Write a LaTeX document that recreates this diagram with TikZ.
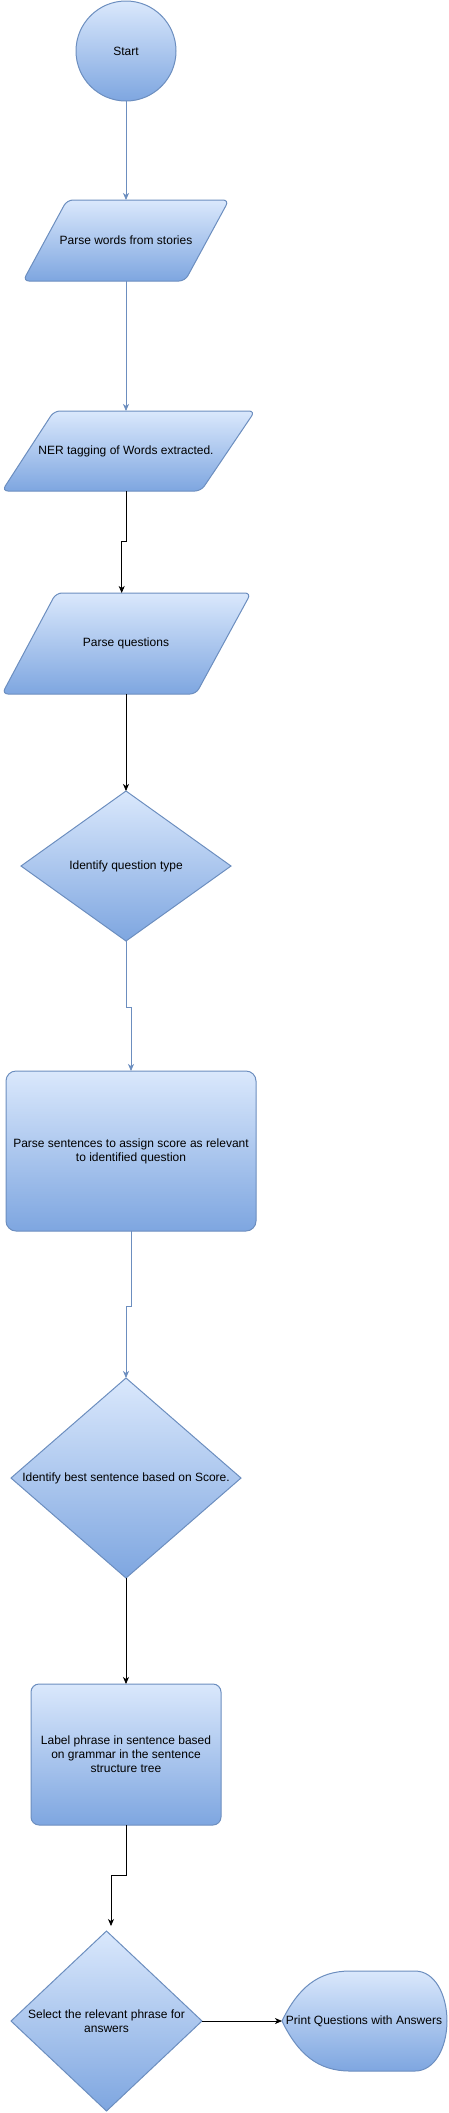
\documentclass[tikz,border=0pt]{standalone}
\usepackage{fontspec}
\setmainfont{Liberation Sans}
\usetikzlibrary{shapes.geometric,arrows.meta}
\definecolor{fillTop}{HTML}{DAE8FC}
\definecolor{fillBot}{HTML}{7EA6E0}
\definecolor{strokeC}{HTML}{6C8EBF}
\tikzset{
 shp/.style={draw=strokeC, line width=1pt, top color=fillTop, bottom color=fillBot, outer sep=0pt, inner sep=0pt},
 lbl/.style={font=\fontsize{12}{14}\selectfont, align=center, text=black},
 tip/.style={-{Stealth[length=7pt,width=6pt,inset=2pt]}},
 bluecon/.style={draw=strokeC, line width=0.8pt, tip},
 blkcon/.style={draw=black, line width=0.8pt, tip},
 para/.style={shp, rounded corners=6pt},
 dia/.style={shp, diamond},
}
\begin{document}
\begin{tikzpicture}[x=1pt,y=-1pt]
\useasboundingbox (0,0) rectangle (449,2113);
% shapes
\node[shp, circle, minimum size=100pt, lbl] (start) at (126,51) {Start};
\path[para] (23,281) -- (67,200) -- (229,200) -- (185,281) -- cycle;
\node[lbl] (p1) at (126,240.5) {Parse words from stories};
\coordinate (p1n) at (126,200);
\coordinate (p1s) at (126,281);
\path[para] (2,491) -- (54,411) -- (255,411) -- (201,491) -- cycle;
\node[lbl] (p2) at (126,451) {NER tagging of Words extracted.};
\coordinate (p2n) at (126,411);
\coordinate (p2s) at (126,491);
\path[para] (2,694) -- (56,593) -- (251,593) -- (196,694) -- cycle;
\node[lbl] (p3) at (126,643.5) {Parse questions};
\coordinate (p3n) at (121.7,593);
\coordinate (p3s) at (126,694);
\node[dia, minimum width=210pt, minimum height=150pt] (d1) at (126,866) {};
\node[lbl] (d1t) at (d1.center) {Identify question type};
\node[shp, rectangle, rounded corners=10pt, minimum width=250pt, minimum height=160pt, lbl] (r1) at (131,1151) {Parse sentences to assign score as relevant\\to identified question};
\node[dia, minimum width=230pt, minimum height=200pt] (d2) at (126,1478) {};
\node[lbl] (d2t) at (d2.center) {Identify best sentence based on Score.};
\node[shp, rectangle, rounded corners=8pt, minimum width=190pt, minimum height=141pt, lbl] (r2) at (126,1754.5) {Label phrase in sentence based\\on grammar in the sentence\\structure tree};
\node[dia, minimum width=191pt, minimum height=180pt] (d3) at (106.5,2021) {};
\node[lbl] (d3t) at (d3.center) {Select the relevant phrase for\\answers};
\path[shp] (282,2021) .. controls (298,1988) and (318,1971) .. (350,1971) -- (415,1971)
  .. controls (435,1971) and (447,1995) .. (447,2021)
  .. controls (447,2047) and (435,2071) .. (415,2071) -- (350,2071)
  .. controls (318,2071) and (298,2054) .. (282,2021) -- cycle;
\node[lbl] (print) at (364,2021) {Print Questions with Answers};
\coordinate (printL) at (282,2021);
\coordinate (c3) at (111,1926);
% connectors
\draw[bluecon] (start.south) -- (p1n);
\draw[bluecon] (p1s) -- (p2n);
\draw[blkcon] (p2s) -- ++(0,50) -- ++(-4.3,0) -- (p3n);
\draw[blkcon] (p3s) -- (d1.north);
\draw[bluecon] (d1.south) -- ++(0,66) -- ++(5,0) -- (r1.north);
\draw[bluecon] (r1.south) -- ++(0,75) -- ++(-5,0) -- (d2.north);
\draw[blkcon] (d2.south) -- (r2.north);
\draw[blkcon] (r2.south) -- ++(0,50) -- ++(-15,0) -- (c3);
\draw[blkcon] (d3.east) -- (printL);
\end{tikzpicture}
\end{document}
